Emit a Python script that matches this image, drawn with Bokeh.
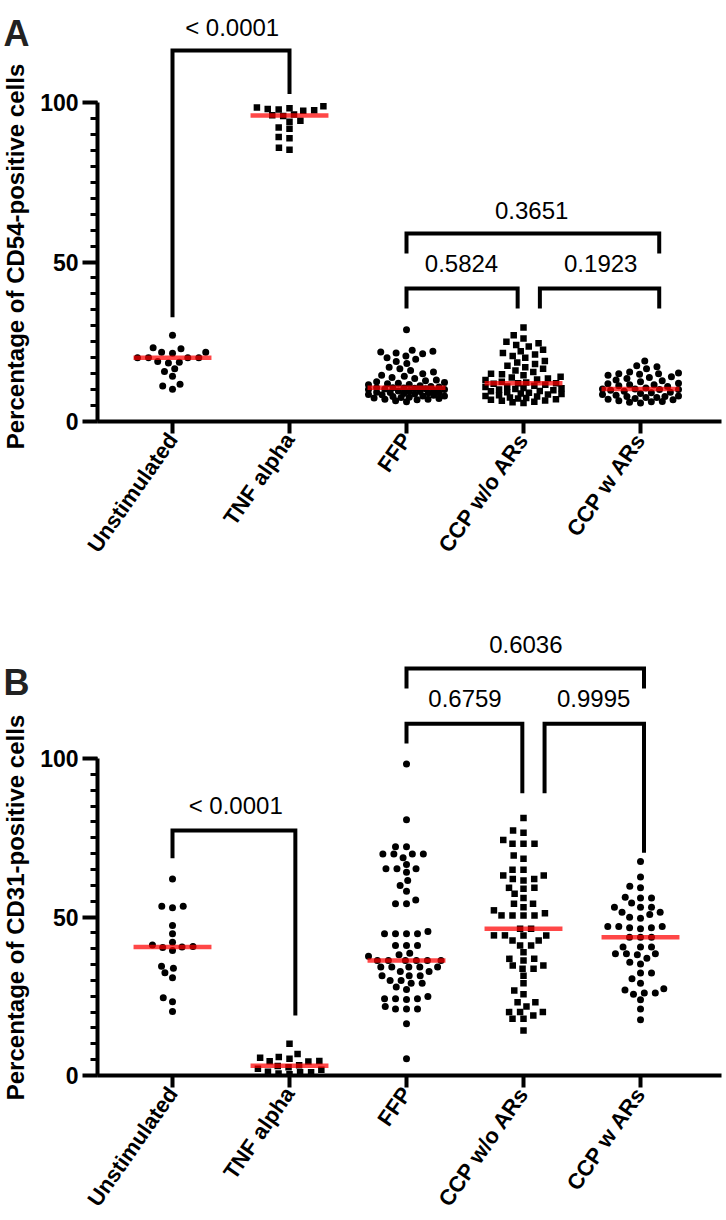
import numpy as np
from bokeh.plotting import figure
from bokeh.models import Range1d, FixedTicker, SingleIntervalTicker
from bokeh.layouts import column, row
from bokeh.core.properties import value
from bokeh.embed import file_html
from bokeh.resources import INLINE

# ---------------- data ----------------
categories = ["Unstimulated", "TNF alpha", "FFP", "CCP w/o ARs", "CCP w ARs"]
markers = ["circle", "square", "circle", "square", "circle"]

# Panel A: Percentage of CD54-positive cells
a_unstim = [27.0, 23.1, 22.8, 21.7, 21.7, 21.4, 20.0, 20.0, 20.0, 20.0, 18.8, 18.6, 18.3,
            16.5, 15.7, 14.2, 11.7, 11.1, 10.1]
a_tnf = [98.8, 98.4, 98.2, 98.0, 97.8, 97.6, 97.4, 96.2, 96.0, 95.8, 94.3, 94.0, 92.2, 91.8,
         89.2, 88.8, 85.8, 85.2]
a_ffp = [28.8, 22.3, 22.0, 21.8, 21.5, 21.2, 20.5, 20.0, 19.5, 18.8, 18.2, 17.0, 16.5, 16.0,
         15.5, 15.0, 14.5, 14.2, 13.8, 13.5, 13.0, 12.8, 12.5, 12.2, 12.0, 11.8, 11.6, 11.5,
         11.2, 11.0, 10.8, 10.6, 10.6, 10.5, 10.4, 10.3, 10.2, 10.0, 10.0, 9.8, 9.6, 9.5, 9.4,
         9.2, 9.1, 9.0, 9.0, 8.8, 8.6, 8.5, 8.4, 8.2, 8.0, 8.0, 7.8, 7.6, 7.5, 7.4, 7.2, 7.0,
         7.0, 6.8, 6.5, 6.2]
a_ccp_wo = [29.5, 27.0, 26.0, 25.0, 24.5, 24.0, 23.5, 22.5, 22.0, 21.5, 21.0, 20.5, 20.0,
            19.0, 18.5, 18.0, 17.5, 17.0, 16.5, 16.0, 15.5, 15.0, 14.8, 14.5, 14.0, 13.8,
            13.5, 13.2, 13.0, 12.5, 12.2, 12.0, 12.0, 11.8, 11.5, 11.2, 11.0, 10.8, 10.5,
            10.4, 10.2, 10.0, 9.8, 9.6, 9.5, 9.2, 9.0, 8.8, 8.6, 8.5, 8.2, 8.0, 7.8, 7.5,
            7.4, 7.2, 7.0, 6.8, 6.6, 6.5, 6.2, 6.0, 5.8]
a_ccp_w = [19.0, 17.5, 17.2, 16.5, 15.5, 15.2, 15.0, 15.0, 14.8, 14.5, 14.0, 13.8, 13.5,
           13.0, 12.8, 12.5, 12.0, 11.8, 11.5, 11.5, 11.2, 11.0, 10.5, 10.2, 10.2, 10.0,
           10.0, 9.8, 9.5, 9.2, 9.0, 8.8, 8.5, 8.2, 8.0, 7.8, 7.8, 7.5, 7.5, 7.2, 7.0, 6.8,
           6.5, 6.3, 6.2, 6.0, 5.8]

# Panel B: Percentage of CD31-positive cells
b_unstim = [62.0, 53.4, 53.4, 52.9, 47.3, 44.7, 42.0, 41.2, 40.7, 40.5, 40.4, 39.4, 34.5,
            33.8, 32.4, 30.8, 24.5, 23.3, 20.2]
b_tnf = [10.0, 6.8, 5.8, 5.6, 5.3, 4.6, 4.5, 4.4, 3.2, 3.0, 2.6, 2.1, 1.8, 1.2, 1.0, 1.0,
         0.6, 0.4]
b_ffp = [98.3, 80.7, 72.2, 72.2, 69.9, 69.9, 69.9, 69.9, 68.7, 66.6, 65.2, 65.2, 65.2, 64.1,
         61.5, 59.9, 58.1, 55.4, 54.2, 54.2, 45.4, 44.7, 44.7, 44.7, 44.7, 41.0, 41.0, 41.0,
         38.6, 38.1, 37.6, 36.3, 36.3, 36.3, 36.3, 36.3, 36.3, 34.2, 34.2, 34.2, 34.2, 34.2,
         32.8, 32.8, 31.5, 31.5, 31.5, 30.0, 30.0, 29.1, 29.1, 27.9, 27.1, 24.9, 24.2, 24.2,
         24.2, 24.0, 21.8, 21.0, 21.0, 21.0, 16.3, 5.3]
b_ccp_wo = [81.2, 77.3, 76.6, 74.3, 73.1, 73.1, 73.1, 69.4, 68.4, 64.9, 64.9, 63.1, 63.1,
            62.0, 62.0, 61.5, 59.2, 59.2, 58.9, 57.3, 56.0, 54.2, 54.2, 53.1, 52.1, 51.2,
            50.5, 50.5, 50.5, 50.5, 46.3, 46.3, 44.2, 44.2, 44.2, 44.2, 42.6, 42.6, 41.0,
            41.0, 38.9, 36.8, 36.8, 36.3, 34.7, 34.7, 33.7, 33.7, 31.5, 29.1, 26.8, 25.6,
            23.1, 23.1, 21.8, 20.0, 20.0, 20.0, 18.9, 17.9, 17.9, 14.2]
b_ccp_w = [67.5, 62.6, 59.7, 59.2, 56.2, 56.0, 56.0, 54.4, 53.1, 53.1, 53.1, 51.5, 51.5,
           50.8, 49.9, 49.6, 47.0, 47.0, 47.0, 46.6, 46.6, 46.3, 43.6, 43.6, 43.6, 40.5,
           40.5, 40.5, 38.4, 38.4, 38.4, 38.1, 37.0, 35.7, 35.2, 32.3, 32.3, 30.5, 29.1,
           27.4, 27.0, 26.0, 26.0, 25.6, 23.9, 21.0, 17.6]

# p-value labels of the comparisons
a_pvalues = ["< 0.0001", "0.3651", "0.5824", "0.1923"]
b_pvalues = ["< 0.0001", "0.6036", "0.6759", "0.9995"]

# ---------------- layout constants ----------------
PAGE_W = 726
WL = 34                       # narrow strip for panel letter + y title
FIG_W = PAGE_W - WL           # main figure width
FRAME_LEFT = 97               # page x of the y axis
ML = FRAME_LEFT - WL
MR = 5
CAT_PX = 117.0                # px per category unit
X_START = -(172 - FRAME_LEFT) / CAT_PX
X_END = X_START + (FIG_W - ML - MR) / CAT_PX
FONT = "Liberation Sans"


def swarm(vals, ppu, hs=11.0, vs=7.0, W=38.0):
    vals = np.asarray(vals, float)
    order = np.argsort(vals, kind="stable")
    out = np.zeros(len(vals))
    px, py = [], []
    lim = W / hs
    for i in order:
        y = vals[i] * ppu / vs
        cands = [0.0]
        for xj, yj in zip(px, py):
            dy = y - yj
            if abs(dy) < 1:
                dx = np.sqrt(1 - dy * dy)
                cands += [xj - dx, xj + dx]
        cands = sorted(cands, key=lambda c: (abs(c), c))
        chosen = None
        for c in cands:
            if abs(c) > lim + 1e-9:
                break
            if all((c - xj) ** 2 + (y - yj) ** 2 >= 1 - 1e-6 for xj, yj in zip(px, py)):
                chosen = c
                break
        if chosen is None:
            grid = np.linspace(-lim, lim, 29)

            def score(c):
                return (min((c - xj) ** 2 + (y - yj) ** 2 for xj, yj in zip(px, py)), -abs(c))
            chosen = max(grid, key=score)
        px.append(chosen)
        py.append(y)
        out[i] = chosen * hs
    return out


def side_strip(height, letter, letter_base, ylabel, ylabel_center):
    """Full-height narrow strip (frame = whole strip): the panel letter and the
    vertical y title, positioned in page pixels relative to the strip's top."""
    q = figure(width=WL, height=height, x_range=Range1d(0, WL), y_range=Range1d(0, height),
               output_backend="svg", toolbar_location=None, min_border=0,
               x_axis_location=None, y_axis_location=None, frame_align=False)
    q.outline_line_color = None
    q.grid.visible = False
    q.text(x=[3], y=[height - letter_base], text=[letter], text_font=value(FONT),
           text_font_style="bold", text_font_size="36px", text_color="#222222",
           text_align="left", text_baseline="alphabetic")
    q.text(x=[15], y=[height - ylabel_center], text=[ylabel], angle=np.pi / 2,
           text_font=value(FONT), text_font_style="bold", text_font_size="24px",
           text_color="black", text_align="center", text_baseline="middle")
    return q


def make_panel(groups, ppu, y0_page, top_page, height, bottom, brackets, pvalues, label_pos):
    frame_h = y0_page - top_page
    ytop = frame_h / ppu
    p = figure(width=FIG_W, height=height, x_range=Range1d(X_START, X_END),
               y_range=Range1d(0, ytop), output_backend="svg", toolbar_location=None,
               min_border_left=ML, min_border_right=MR, min_border_top=0,
               min_border_bottom=bottom, frame_align=False)
    p.outline_line_color = None
    p.grid.visible = False
    p.background_fill_color = "white"

    for k, vals in enumerate(groups):
        xs = k + swarm(vals, ppu) / CAT_PX
        if markers[k] == "square":
            p.scatter(xs, vals, marker="square", size=6.5, fill_color="black", line_color=None)
        else:
            p.scatter(xs, vals, marker="circle", size=7, fill_color="black", line_color=None)
    for k, vals in enumerate(groups):
        med = float(np.median(vals))
        p.segment(x0=[k - 0.333], x1=[k + 0.333], y0=[med], y1=[med], line_color="red",
                  line_alpha=0.72, line_width=4.5)

    bx, by = [], []
    for (xl, xr, yt, yl, yr) in brackets:
        bx.append([xl, xl, xr, xr])
        by.append([yl, yt, yt, yr])
    p.multi_line(bx, by, line_color="black", line_width=4, line_join="miter", line_cap="butt")
    p.text(x=[q[0] for q in label_pos], y=[q[1] for q in label_pos], text=pvalues,
           text_font=value(FONT), text_font_size="24px", text_align="center",
           text_baseline="middle", text_color="black")

    yax = p.yaxis[0]
    yax.ticker = SingleIntervalTicker(interval=50, num_minor_ticks=10)
    yax.bounds = (0, 100)
    yax.axis_line_width = 4
    yax.major_tick_line_width = 4
    yax.minor_tick_line_width = 3
    yax.major_tick_out = 15
    yax.major_tick_in = 0
    yax.minor_tick_out = 7
    yax.minor_tick_in = 0
    yax.major_label_standoff = 4
    yax.major_label_text_font = FONT
    yax.major_label_text_font_style = "bold"
    yax.major_label_text_font_size = "23px"
    yax.major_label_text_color = "black"

    xax = p.xaxis[0]
    xax.ticker = FixedTicker(ticks=list(range(len(categories))))
    xax.major_label_overrides = {i: c for i, c in enumerate(categories)}
    xax.axis_line_width = 4
    xax.major_tick_line_width = 4
    xax.major_tick_out = 12
    xax.major_tick_in = 0
    xax.minor_tick_line_color = None
    xax.major_label_orientation = np.radians(55)
    xax.major_label_standoff = 2
    xax.major_label_text_font = FONT
    xax.major_label_text_font_style = "bold"
    xax.major_label_text_font_size = "22px"
    xax.major_label_text_color = "black"
    return p


# Panel A geometry: page y of 0 = 421, of 100 = 102; figure spans page y 0..625
ppu_a = 3.19
a_brackets = [(0.0, 1.0, 116.3, 32.7, 102.7),
              (2.0, 4.16, 58.9, 52.7, 52.7),
              (2.0, 2.95, 41.7, 35.4, 35.4),
              (3.14, 4.16, 41.7, 35.4, 35.4)]
a_label_pos = [(0.51, 123.6), (3.07, 66.1), (2.47, 49.5), (3.66, 49.5)]
HA = 625
pA = make_panel([a_unstim, a_tnf, a_ffp, a_ccp_wo, a_ccp_w], ppu_a, 421, 0, HA, HA - 421,
                a_brackets, a_pvalues, a_label_pos)
sA = side_strip(HA, "A", 33, "Percentage of CD54-positive cells", 256)

# Panel B geometry: page y of 0 = 1075, of 100 = 758; figure spans page y 625..1220
ppu_b = 3.17
b_brackets = [(0.0, 1.05, 77.3, 68.5, 18.9),
              (2.0, 4.03, 128.4, 122.1, 122.1),
              (2.0, 2.99, 111.0, 104.7, 89.0),
              (3.18, 4.03, 111.0, 89.0, 70.3)]
b_label_pos = [(0.54, 85.2), (3.02, 136.0), (2.50, 118.9), (3.60, 118.9)]
TOP_B = 625
HB = 1220 - TOP_B
pB = make_panel([b_unstim, b_tnf, b_ffp, b_ccp_wo, b_ccp_w], ppu_b, 1075, TOP_B, HB,
                TOP_B + HB - 1075, b_brackets, b_pvalues, b_label_pos)
sB = side_strip(HB, "B", 682 - TOP_B, "Percentage of CD31-positive cells", 907 - TOP_B)

layout = column(row(sA, pA, spacing=0), row(sB, pB, spacing=0), spacing=0)
open("out.html", "w").write(file_html(layout, INLINE))
